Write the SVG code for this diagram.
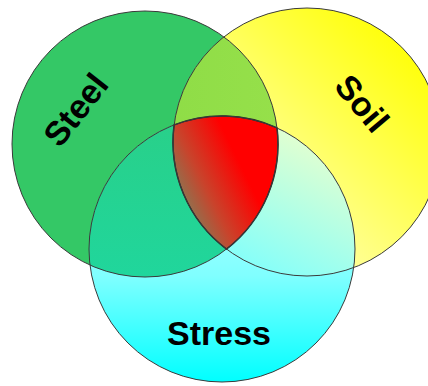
<svg xmlns="http://www.w3.org/2000/svg" width="428" height="386" viewBox="0 0 428 386">
<style>
.outline{fill:none;stroke:#3a3a3a;stroke-width:1}
.label{font-family:"Liberation Sans",Arial,sans-serif;font-weight:bold;font-size:34px;fill:#000;text-anchor:middle}
</style>
<defs>
<clipPath id="clipY"><circle cx="307" cy="142" r="134"/></clipPath>
<clipPath id="clipC"><circle cx="222" cy="249" r="133"/></clipPath>
<linearGradient id="gYellow" x1="0.9" y1="0.1" x2="0.1" y2="0.9">
<stop offset="0" stop-color="#FFFF00"/>
<stop offset="1" stop-color="#FFFFD8"/>
</linearGradient>
<linearGradient id="gCyan" x1="0" y1="0" x2="0" y2="1">
<stop offset="0" stop-color="#D8FFFF"/>
<stop offset="0.6" stop-color="#80FFFF"/>
<stop offset="1" stop-color="#00FFFF"/>
</linearGradient>
<linearGradient id="gGY" x1="0" y1="0" x2="1" y2="0">
<stop offset="0" stop-color="#84D842"/>
<stop offset="1" stop-color="#96E04A"/>
</linearGradient>
<linearGradient id="gGC" x1="0" y1="0" x2="0" y2="1">
<stop offset="0" stop-color="#2FCC7C"/>
<stop offset="1" stop-color="#20D69C"/>
</linearGradient>
<linearGradient id="gYC" x1="0.75" y1="0.05" x2="0.3" y2="0.95">
<stop offset="0" stop-color="#FFFFA8"/>
<stop offset="0.4" stop-color="#F4FFC8"/>
<stop offset="1" stop-color="#88FFF8"/>
</linearGradient>
<linearGradient id="gRed" x1="0" y1="0.85" x2="0.8" y2="0.35">
<stop offset="0" stop-color="#5E9A6E"/>
<stop offset="0.45" stop-color="#C8442C"/>
<stop offset="0.85" stop-color="#FF0000"/>
</linearGradient>
</defs>

<g id="steel">
<circle cx="145" cy="144" r="133" fill="#34C866"/>
</g>
<g id="soil">
<circle cx="307" cy="142" r="134" fill="url(#gYellow)"/>
</g>
<g id="stress">
<circle cx="222" cy="249" r="133" fill="url(#gCyan)"/>
</g>

<g id="overlaps">
<circle cx="145" cy="144" r="133" fill="url(#gGY)" clip-path="url(#clipY)"/>
<circle cx="145" cy="144" r="133" fill="url(#gGC)" clip-path="url(#clipC)"/>
<circle cx="307" cy="142" r="134" fill="url(#gYC)" clip-path="url(#clipC)"/>
<path id="center" d="M174.1,124.9 A133,133 0 0 1 277.03,127.91 A133,133 0 0 1 226.48,249.1 A134,134 0 0 1 174.1,124.9 Z" fill="url(#gRed)" stroke="#2a2a2a" stroke-width="1.5"/>
</g>

<g id="outlines">
<circle class="outline" cx="145" cy="144" r="133"/>
<circle class="outline" cx="307" cy="142" r="134"/>
<circle class="outline" cx="222" cy="249" r="133"/>
</g>

<g id="labels">
<text class="label" transform="translate(85,117) rotate(-52)">Steel</text>
<text class="label" transform="translate(353,111) rotate(50)">Soil</text>
<text class="label" x="219" y="345">Stress</text>
</g>
</svg>
